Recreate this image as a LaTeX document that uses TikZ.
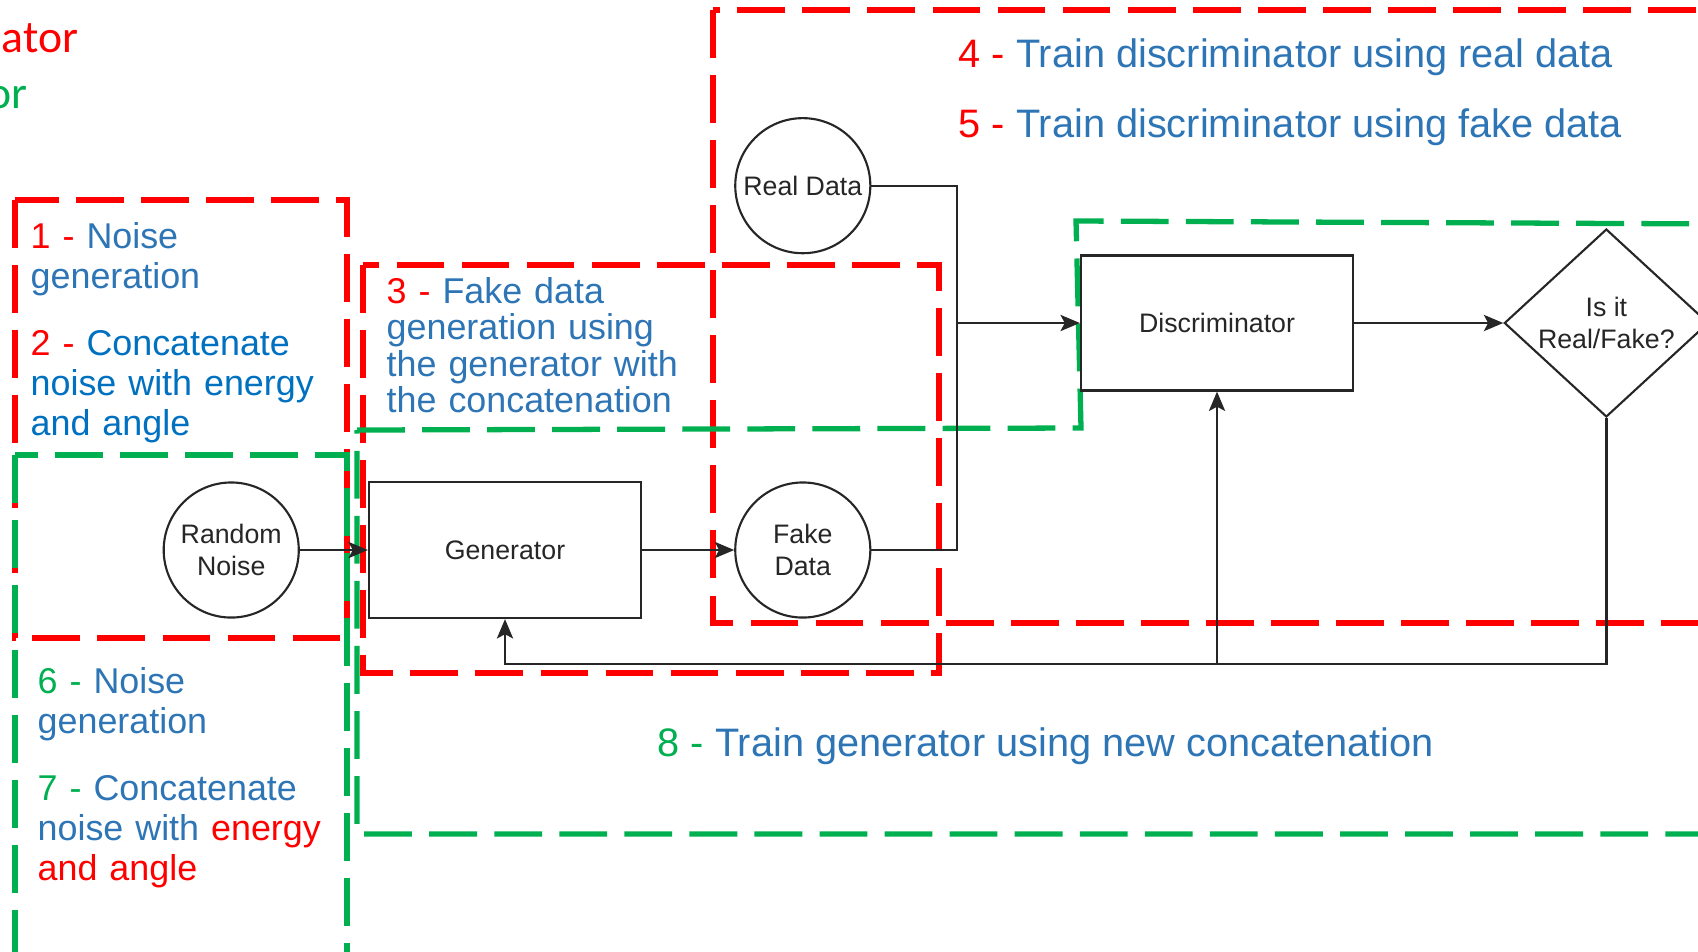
\documentclass[tikz,border=0pt]{standalone}
\usepackage{fontspec}
\setmainfont{Liberation Sans}
\newfontfamily\legendfont{Carlito}
\usetikzlibrary{arrows.meta,positioning,shapes.geometric}

\definecolor{stepRed}{RGB}{255,0,0}
\definecolor{stepGreen}{RGB}{0,176,80}
\definecolor{stepBlue}{RGB}{46,117,182}
\definecolor{deepBlue}{RGB}{0,112,192}

\begin{document}
\begin{tikzpicture}[x=0.01cm, y=-0.01cm,
    redBox/.style={draw=stepRed, line width=1.45pt, dash pattern=on 13.6pt off 4.9pt},
    greenBox/.style={draw=stepGreen, line width=1.5pt, dash pattern=on 13.6pt off 4.9pt},
    circNode/.style={draw=black!85, fill=white, circle, minimum size=1.35cm, inner sep=0pt, line width=0.6pt, align=center, text=black!85, font=\fontsize{7.6pt}{9pt}\selectfont},
    blockNode/.style={draw=black!85, fill=white, rectangle, minimum width=2.72cm, minimum height=1.36cm, line width=0.6pt, text=black!85, font=\fontsize{7.6pt}{9pt}\selectfont},
    stepText/.style={anchor=base west, inner sep=0pt, align=left, text=stepBlue, font=\fontsize{10.2pt}{11.4pt}\selectfont},
    bigText/.style={anchor=base west, inner sep=0pt, text=stepBlue, font=\fontsize{11.3pt}{13pt}\selectfont},
    link/.style={draw=black!85, line width=0.65pt},
    arr/.style={link, -{Stealth[length=5.5pt, width=4.6pt, inset=1.2pt]}}
  ]
  \clip (0,0) rectangle (1698,951);

  \draw[redBox] (15,200) rectangle (347,638);
  \draw[redBox] (363,265) rectangle (939,673);
  \draw[redBox] (713,10) rectangle (1730,623);
  \draw[greenBox] (15,455) rectangle (347,980);
  \draw[greenBox] (357,430) -- (1081,428) -- (1076,221) -- (1730,224) -- (1730,834) -- (357,834) -- cycle;

  \node (keyRed) [anchor=base west, inner sep=0pt, text=stepRed, font=\legendfont\fontsize{13pt}{15pt}\selectfont] at (1,52) {ator};
  \node (keyGreen) [anchor=base west, inner sep=0pt, text=stepGreen, font=\legendfont\fontsize{13pt}{15pt}\selectfont] at (-13,108) {or};

  \node (stepOne) [stepText, text width=3.1cm] at (30,248) {
      \color{stepRed}1 - \color{stepBlue}Noise\\
      generation\\[7.7pt]
      \color{stepRed}2 - \color{deepBlue}Concatenate\\
      noise with energy\\
      and angle};

  \node (stepThree) [stepText, text width=3.2cm, font=\fontsize{10.2pt}{10.4pt}\selectfont] at (386,303) {
      \color{stepRed}3 - \color{stepBlue}Fake data\\
      generation using\\
      the generator with\\
      the concatenation};

  \node (stepSix) [stepText, text width=3.1cm] at (37,693) {
      \color{stepGreen}6 - \color{stepBlue}Noise\\
      generation\\[7.7pt]
      \color{stepGreen}7 - \color{stepBlue}Concatenate\\
      noise with \color{stepRed}energy\\
      and angle};

  \node (stepFour) [bigText] at (958,67) {\textcolor{stepRed}{4 -} Train discriminator using real data};
  \node (stepFive) [bigText] at (958,137) {\textcolor{stepRed}{5 -} Train discriminator using fake data};
  \node (stepEight) [bigText] at (657,756) {\textcolor{stepGreen}{8 -} Train generator using new concatenation};

  \node (gen) [blockNode] at (505,550) {Generator};
  \node (noise) [circNode, left=0.68cm of gen] {Random\\Noise};
  \node (fake) [circNode, right=0.92cm of gen] {Fake\\Data};
  \node (real) [circNode, above=2.27cm of fake] {Real Data};
  \node (disc) [blockNode, minimum height=1.35cm] at (1217,323) {Discriminator};
  \node (check) [draw=black!85, fill=white, diamond, minimum width=2.04cm, minimum height=1.8cm, inner sep=0pt, line width=0.6pt, align=center, text=black!85, font=\fontsize{7.6pt}{9pt}\selectfont, right=1.49cm of disc] {Is it\\Real/Fake?};

  \coordinate[left=1.23cm of disc.west] (merge);
  \coordinate[below=2.72cm of disc.south] (back);

  \draw[arr] (noise) -- (gen);
  \draw[arr] (gen) -- (fake);
  \draw[link] (real.east) -| (merge);
  \draw[link] (fake.east) -| (merge);
  \draw[arr] (merge) -- (disc.west);
  \draw[arr] (disc) -- (check);
  \draw[arr] (check.south) |- (back) -| (gen.south);
  \draw[arr] (back) -- (disc.south);
\end{tikzpicture}
\end{document}
